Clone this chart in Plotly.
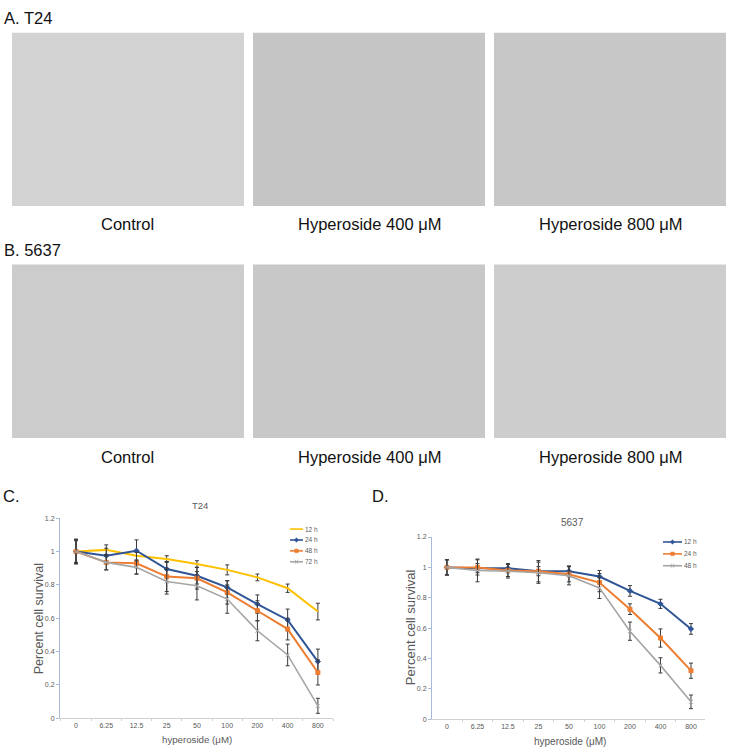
import plotly.graph_objects as go

W, H = 735, 755

# ---------------- data ----------------
doses = ["0", "6.25", "12.5", "25", "50", "100", "200", "400", "800"]

# Panel C: T24
t24_12h = [1.00, 1.01, 0.975, 0.955, 0.925, 0.89, 0.845, 0.78, 0.64]
t24_12h_err = [0.07, 0.03, 0.025, 0.02, 0.02, 0.03, 0.02, 0.025, 0.05]
t24_24h = [1.00, 0.975, 1.005, 0.895, 0.855, 0.785, 0.685, 0.59, 0.34]
t24_24h_err = [0.07, 0.045, 0.065, 0.045, 0.05, 0.04, 0.055, 0.065, 0.075]
t24_48h = [1.00, 0.935, 0.93, 0.85, 0.84, 0.755, 0.645, 0.535, 0.275]
t24_48h_err = [0.065, 0.045, 0.065, 0.09, 0.065, 0.07, 0.06, 0.065, 0.075]
t24_72h = [1.00, 0.935, 0.905, 0.82, 0.795, 0.715, 0.525, 0.38, 0.075]
t24_72h_err = [0.075, 0.045, 0.04, 0.075, 0.085, 0.085, 0.06, 0.065, 0.045]

# Panel D: 5637
c5637_12h = [1.00, 0.995, 0.995, 0.975, 0.975, 0.94, 0.845, 0.76, 0.595]
c5637_12h_err = [0.05, 0.03, 0.03, 0.03, 0.035, 0.04, 0.035, 0.03, 0.035]
c5637_24h = [1.00, 1.00, 0.98, 0.975, 0.955, 0.90, 0.725, 0.535, 0.32]
c5637_24h_err = [0.05, 0.05, 0.04, 0.07, 0.05, 0.06, 0.035, 0.06, 0.05]
c5637_48h = [1.00, 0.98, 0.975, 0.965, 0.945, 0.865, 0.58, 0.355, 0.115]
c5637_48h_err = [0.05, 0.075, 0.045, 0.07, 0.06, 0.07, 0.06, 0.05, 0.045]

photo_labels = ["Control", "Hyperoside 400 \u03bcM", "Hyperoside 800 \u03bcM"]

# ---------------- helpers ----------------
def px(x):
    return x / W


def py(y):
    return 1 - y / H


FONT = "Arial, Liberation Sans, sans-serif"
YEL, BLU, ORA, GRY = "#FFC000", "#2F5597", "#ED7D31", "#A5A5A5"
ERR = "#3a3a3a"

fig = go.Figure()

series_c = [
    ("12 h", t24_12h, t24_12h_err, YEL, None),
    ("24 h", t24_24h, t24_24h_err, BLU, "diamond"),
    ("48 h", t24_48h, t24_48h_err, ORA, "square"),
    ("72 h", t24_72h, t24_72h_err, GRY, "x-thin-open"),
]
series_d = [
    ("12 h", c5637_12h, c5637_12h_err, BLU, "diamond"),
    ("24 h", c5637_24h, c5637_24h_err, ORA, "square"),
    ("48 h", c5637_48h, c5637_48h_err, GRY, "x-thin-open"),
]


def add_series(series, xa, ya):
    for name, vals, err, col, sym in series:
        marker = dict(color=col, size=4)
        mode = "lines+markers"
        if sym is None:
            mode = "lines"
        else:
            marker["symbol"] = sym
            marker["line"] = dict(color=col, width=1)
        fig.add_trace(go.Scatter(
            x=doses, y=vals, name=name, mode=mode,
            line=dict(color=col, width=2 if sym != "x-thin-open" else 1.6),
            marker=marker,
            error_y=dict(type="data", array=err, color=ERR, thickness=1, width=2),
            xaxis=xa, yaxis=ya, showlegend=False,
        ))


add_series(series_c, "x", "y")
add_series(series_d, "x2", "y2")

axis_common_x = dict(
    type="category", showline=True, linecolor="#d0d0d0", linewidth=1,
    ticks="outside", tickson="boundaries", ticklen=2, tickcolor="#d0d0d0",
    tickfont=dict(size=7, color="#595959", family=FONT),
    showgrid=False, zeroline=False, fixedrange=True,
)
axis_common_y = dict(
    range=[0, 1.2], dtick=0.2, showline=True, linecolor="#a9b9d9", linewidth=1,
    ticks="outside", ticklen=3, tickcolor="#a9b9d9",
    tickfont=dict(size=7, color="#595959", family=FONT),
    showgrid=False, zeroline=False, fixedrange=True,
)

fig.update_layout(
    width=W, height=H,
    margin=dict(l=0, r=0, t=0, b=0),
    paper_bgcolor="white", plot_bgcolor="white",
    showlegend=False,
    xaxis=dict(domain=[px(60), px(333)], range=[-0.53, 8.5], anchor="y", **axis_common_x),
    yaxis=dict(domain=[py(721), py(519)], anchor="x", **axis_common_y),
    xaxis2=dict(domain=[px(432), px(705)], range=[-0.49, 8.46], anchor="y2", **axis_common_x),
    yaxis2=dict(domain=[py(722), py(538)], anchor="x2", **axis_common_y),
)

shapes = []
annotations = []

# ---------------- photo placeholders ----------------
cols_x = [(12, 244), (253, 485), (494, 726)]
rows = [((29, 204), 222, ["#d3d3d3", "#c5c5c5", "#c7c7c7"]),
        ((263, 438), 457, ["#cccccc", "#c8c8c8", "#cdcdcd"])]
for (y0, y1), ly, colors in rows:
    for (x0, x1), lab, col in zip(cols_x, photo_labels, colors):
        shapes.append(dict(type="rect", xref="paper", yref="paper",
                           x0=px(x0), x1=px(x1), y0=py(y1), y1=py(y0),
                           fillcolor=col, line=dict(width=0), layer="below"))
        annotations.append(dict(text=lab, x=px((x0 + x1) / 2), y=py(ly),
                                xref="paper", yref="paper", showarrow=False,
                                xanchor="center", yanchor="middle",
                                font=dict(size=16.5, color="#111111", family=FONT)))


def label(text, x, y, size, color="#111111", xanchor="left", angle=0):
    annotations.append(dict(text=text, x=px(x), y=py(y), xref="paper", yref="paper",
                            showarrow=False, xanchor=xanchor, yanchor="middle",
                            textangle=angle,
                            font=dict(size=size, color=color, family=FONT)))


label("A. T24", 2, 14, 16.5)
label("B. 5637", 2, 248, 16.5)
label("C.", 1, 497, 16.5)
label("D.", 370, 497, 16.5)

# chart titles and axis titles
label("T24", 200, 506, 9.5, "#595959", "center")
label("5637", 572, 523, 10, "#595959", "center")
label("Percent cell survival", 39, 621, 12.5, "#595959", "center", -90)
label("Percent cell survival", 410, 629, 13, "#595959", "center", -90)
label("hyperoside (\u03bcM)", 197, 742, 9.7, "#595959", "center")
label("hyperoside (\u03bcM)", 570, 744, 10, "#595959", "center")


# ---------------- manual legends ----------------
def legend(series, x0, x1, tx, ys):
    for (name, _v, _e, col, sym), yy in zip(series, ys):
        shapes.append(dict(type="line", xref="paper", yref="paper",
                           x0=px(x0), x1=px(x1), y0=py(yy), y1=py(yy),
                           line=dict(color=col, width=1.6)))
        cx = (x0 + x1) / 2
        r = 2.2
        if sym == "diamond":
            path = (f"M {px(cx - r)} {py(yy)} L {px(cx)} {py(yy - r)} "
                    f"L {px(cx + r)} {py(yy)} L {px(cx)} {py(yy + r)} Z")
            shapes.append(dict(type="path", xref="paper", yref="paper", path=path,
                               fillcolor=col, line=dict(color=col, width=0.5)))
        elif sym == "square":
            shapes.append(dict(type="rect", xref="paper", yref="paper",
                               x0=px(cx - 1.8), x1=px(cx + 1.8),
                               y0=py(yy + 1.8), y1=py(yy - 1.8),
                               fillcolor=col, line=dict(color=col, width=0.5)))
        elif sym == "x-thin-open":
            for d in (1, -1):
                shapes.append(dict(type="line", xref="paper", yref="paper",
                                   x0=px(cx - 1.8), x1=px(cx + 1.8),
                                   y0=py(yy - 1.8 * d), y1=py(yy + 1.8 * d),
                                   line=dict(color=col, width=1)))
        label(name, tx - 2, yy, 6.5, "#595959")


legend(series_c, 290, 303, 305, [530, 541, 552, 563])
legend(series_d, 663, 682, 684, [543, 555, 567])

fig.update_layout(shapes=shapes, annotations=annotations)

fig.write_html(
    "out.html",
    config={"displayModeBar": False},
    post_script="document.body.style.margin='0px';document.body.style.overflow='hidden';",
)
